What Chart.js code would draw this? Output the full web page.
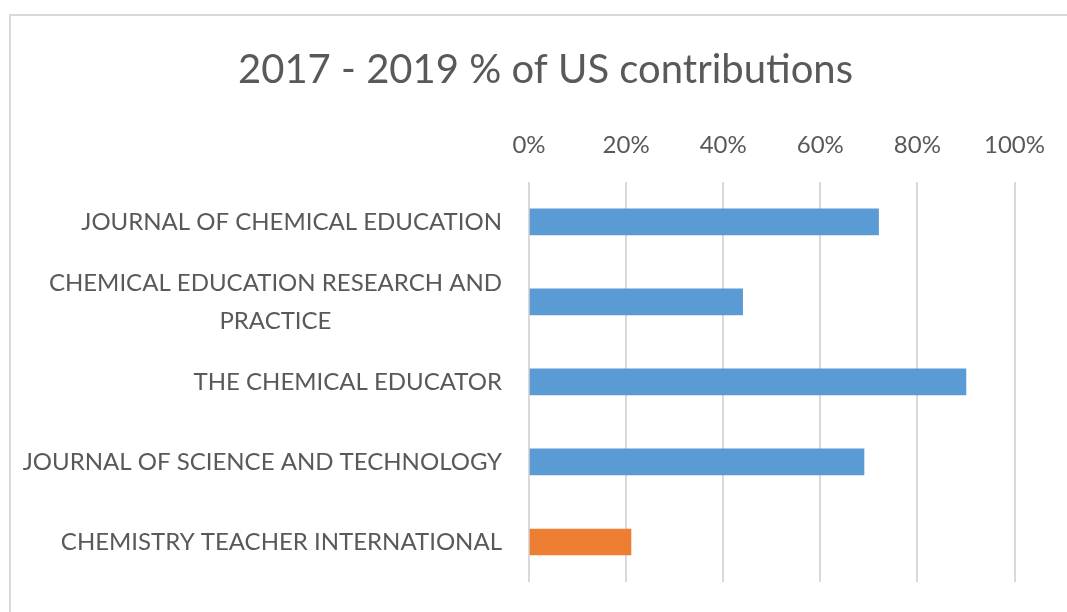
<!DOCTYPE html>
<html>
<head>
<meta charset="utf-8">
<script src="https://cdn.jsdelivr.net/npm/chart.js@4"></script>
<style>
  html, body { margin: 0; padding: 0; background: #fff; overflow: hidden; }
  .frame { position: absolute; left: 9px; top: 14px; width: 1200px; height: 800px; border: 2px solid #d9d9d9; }
  .wrap { position: absolute; left: 0; top: 0; width: 1067px; height: 612px; }
</style>
</head>
<body>
<div class="frame"></div>
<div class="wrap"><canvas id="chartUS"></canvas></div>
<script>
const journals = [
  'JOURNAL OF CHEMICAL EDUCATION',
  ['CHEMICAL EDUCATION RESEARCH AND', 'PRACTICE'],
  'THE CHEMICAL EDUCATOR',
  'JOURNAL OF SCIENCE AND TECHNOLOGY',
  'CHEMISTRY TEACHER INTERNATIONAL'
];
const usShare = [72, 44, 90, 69, 21];
const barColors = ['#5b9bd5', '#5b9bd5', '#5b9bd5', '#5b9bd5', '#ed7d31'];
const xTicks = [0, 20, 40, 60, 80, 100];

const FONT = "Lato, 'Open Sans', sans-serif";
const TEXT_COLOR = '#595959';

// draws the category labels ourselves so wrapped lines centre like the original
const categoryLabels = {
  id: 'categoryLabels',
  afterDraw(chart) {
    const yScale = chart.scales.y;
    const c = chart.ctx;
    const right = 502;
    const lineGap = 38;
    c.save();
    c.font = '24px ' + FONT;
    c.fillStyle = TEXT_COLOR;
    c.textBaseline = 'middle';
    journals.forEach((lbl, i) => {
      const yMid = yScale.getPixelForTick(i);
      const lines = Array.isArray(lbl) ? lbl : [lbl];
      if (lines.length === 1) {
        c.textAlign = 'right';
        c.fillText(lines[0], right, yMid);
        return;
      }
      const widest = Math.max(...lines.map(l => c.measureText(l).width));
      const centre = right - widest / 2;
      c.textAlign = 'center';
      lines.forEach((l, k) => {
        c.fillText(l, centre, yMid + (k - (lines.length - 1) / 2) * lineGap);
      });
    });
    c.restore();
  }
};

const ctx = document.getElementById('chartUS').getContext('2d');
new Chart(ctx, {
  type: 'bar',
  data: {
    labels: journals,
    datasets: [{
      data: usShare,
      backgroundColor: barColors,
      barThickness: 26
    }]
  },
  options: {
    indexAxis: 'y',
    responsive: true,
    maintainAspectRatio: false,
    animation: false,
    layout: { padding: { top: 14, right: 52, left: 76, bottom: 30 } },
    plugins: {
      legend: { display: false },
      tooltip: { enabled: false },
      title: {
        display: true,
        text: '2017 - 2019 % of US contributions',
        color: TEXT_COLOR,
        font: { family: FONT, size: 40, weight: 'normal' },
        padding: { top: 32, bottom: 15 }
      }
    },
    scales: {
      x: {
        position: 'top',
        min: 0,
        max: 100,
        afterBuildTicks: s => { s.ticks = xTicks.map(v => ({ value: v })); },
        ticks: {
          callback: v => v + '%',
          color: TEXT_COLOR,
          font: { family: FONT, size: 24 },
          padding: 22,
          maxRotation: 0
        },
        grid: { color: '#d9d9d9', lineWidth: 2, drawTicks: false },
        border: { display: false }
      },
      y: {
        ticks: { display: false },
        grid: { display: false },
        border: { display: false },
        afterFit: s => { s.width = 453; }
      }
    }
  },
  plugins: [categoryLabels]
});
</script>
</body>
</html>
